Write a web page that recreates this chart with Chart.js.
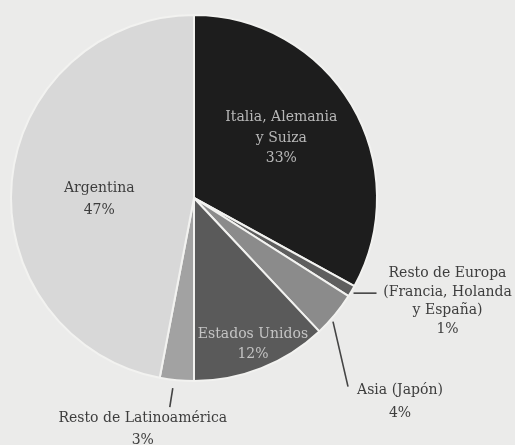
<!DOCTYPE html>
<html>
<head>
<meta charset="utf-8">
<script src="https://cdn.jsdelivr.net/npm/chart.js@4"></script>
<style>
  html, body { margin:0; padding:0; background:#ebebea; }
  #wrap { width:515px; height:445px; position:relative; }
</style>
</head>
<body>
<div id="wrap"><canvas id="chartOrigen" width="515" height="445"></canvas></div>
<script>
// Datos (sentido horario desde las 12)
const categorias = ['Italia, Alemania y Suiza', 'Resto de Europa (Francia, Holanda y España)', 'Asia (Japón)', 'Estados Unidos', 'Resto de Latinoamérica', 'Argentina'];
const porcentajes = [33, 1, 4, 12, 3, 47];
const etiquetas = [
  ['Italia, Alemania', 'y Suiza'],
  ['Resto de Europa', '(Francia, Holanda', 'y España)'],
  ['Asia (Japón)'],
  ['Estados Unidos'],
  ['Resto de Latinoamérica'],
  ['Argentina']
];
const colores = ['#1d1d1d', '#5e5e5e', '#8b8b8b', '#5a5a5a', '#a2a2a2', '#d8d8d8'];

// como se ubica cada rótulo: dentro (r = fracción del radio) o fuera con línea guía
const rotulos = [
  { modo:'in', r:0.58, dx:-4, dy:-6, lh:20.5, color:'#b8b8b8' },
  { modo:'out', l1:[2, 2], l2:[25, 2], t:[96, 10], lh:18.5 },
  { modo:'out', l1:[-2, 7], l2:[13, 72], t:[65, 87], lh:23 },
  { modo:'in', r:0.86, dx:1, dy:0, lh:20, color:'#c4c4c4' },
  { modo:'out', l1:[-4, 8], l2:[-7, 27], t:[-34, 49], lh:22 },
  { modo:'in', r:0.52, dx:0, dy:10, lh:22, color:'#3d3d3d' }
];

const FONT = '14px "DejaVu Serif", serif';

const rotulosPlugin = {
  id:'rotulos',
  afterDatasetsDraw(chart){
    const ctx = chart.ctx;
    const arcs = chart.getDatasetMeta(0).data;
    ctx.save();
    ctx.font = FONT;
    ctx.textAlign = 'center';
    ctx.textBaseline = 'middle';
    arcs.forEach((arc, i) => {
      const {x, y, startAngle, endAngle, outerRadius} = arc.getProps(['x','y','startAngle','endAngle','outerRadius'], true);
      const a = (startAngle + endAngle) / 2;
      const cos = Math.cos(a), sin = Math.sin(a);
      const lines = etiquetas[i].concat([porcentajes[i] + '%']);
      const cfg = rotulos[i];
      let cx, cy;
      if(cfg.modo === 'in'){
        cx = x + cos*outerRadius*cfg.r + cfg.dx;
        cy = y + sin*outerRadius*cfg.r + cfg.dy;
        ctx.fillStyle = cfg.color;
      } else {
        const ex = x + cos*outerRadius, ey = y + sin*outerRadius;
        ctx.strokeStyle = '#444';
        ctx.lineWidth = 1.6;
        ctx.beginPath();
        ctx.moveTo(ex + cfg.l1[0], ey + cfg.l1[1]);
        ctx.lineTo(ex + cfg.l2[0], ey + cfg.l2[1]);
        ctx.stroke();
        cx = ex + cfg.t[0];
        cy = ey + cfg.t[1];
        ctx.fillStyle = '#3d3d3d';
      }
      const top = cy - (lines.length - 1) * cfg.lh / 2;
      lines.forEach((t, k) => ctx.fillText(t, cx, top + k*cfg.lh));
    });
    ctx.restore();
  }
};

const ctx = document.getElementById('chartOrigen').getContext('2d');
new Chart(ctx, {
  type:'pie',
  data:{
    labels:categorias,
    datasets:[{
      data:porcentajes,
      backgroundColor:colores,
      borderColor:'#f2f2f0',
      borderWidth:2,
      hoverOffset:0
    }]
  },
  options:{
    responsive:false,
    animation:false,
    radius:183,
    layout:{ padding:{ left:0, right:127, top:0, bottom:49 } },
    plugins:{ legend:{ display:false }, tooltip:{ enabled:false } }
  },
  plugins:[rotulosPlugin]
});
</script>
</body>
</html>
